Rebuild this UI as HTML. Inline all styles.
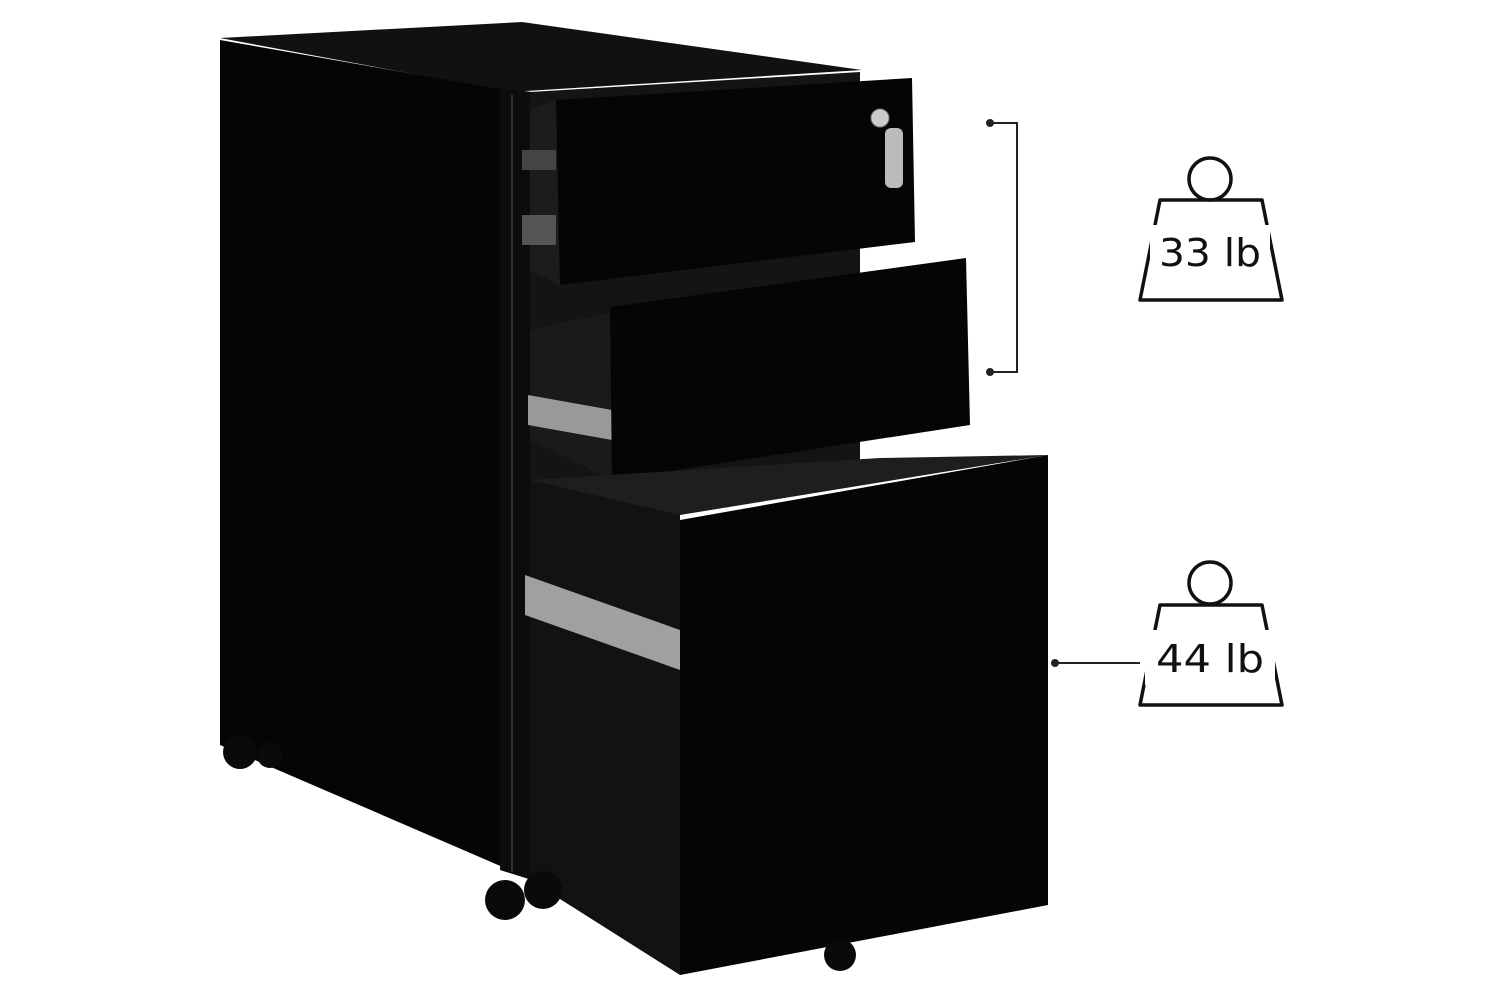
<!DOCTYPE html>
<html><head><meta charset="utf-8"><style>html,body{margin:0;padding:0;background:#fff}svg{display:block}</style></head>
<body>
<svg width="1500" height="1000" viewBox="0 0 1500 1000" xmlns="http://www.w3.org/2000/svg">
<rect width="1500" height="1000" fill="#fff"/>
<!-- top surface -->
<polygon points="220,38 522,22 862,70 510,92" fill="#111"/>
<!-- side panel -->
<polygon points="220,40 505,90 505,868 220,745" fill="#050505"/>
<!-- back wheels -->
<circle cx="240" cy="752" r="17" fill="#0a0a0a"/>
<circle cx="270" cy="755" r="13" fill="#0a0a0a"/>
<!-- front frame column -->
<polygon points="500,88 532,92 532,880 500,870" fill="#0c0c0c"/>
<line x1="512" y1="95" x2="512" y2="872" stroke="#333" stroke-width="2"/>
<!-- interior -->
<polygon points="530,92 860,72 860,470 530,490" fill="#141414"/>
<polygon points="530,480 680,512 680,975 530,880" fill="#121212"/>
<!-- top drawer -->
<polygon points="530,110 556,100 560,285 530,270" fill="#1c1c1c"/>
<polygon points="556,100 912,78 915,242 560,285" fill="#050505"/>
<rect x="522" y="150" width="34" height="20" fill="#444"/>
<rect x="522" y="215" width="34" height="30" fill="#555"/>
<!-- lock -->
<circle cx="880" cy="118" r="9" fill="#ccc" stroke="#777"/>
<rect x="885" y="128" width="18" height="60" rx="6" fill="#bbb"/>
<!-- middle drawer -->
<polygon points="530,330 612,312 612,480 530,440" fill="#1a1a1a"/>
<polygon points="528,395 612,410 612,440 528,425" fill="#999"/>
<polygon points="610,307 966,258 970,425 612,480" fill="#050505"/>
<!-- bottom drawer -->
<polygon points="525,575 680,630 680,670 525,615" fill="#a0a0a0"/>
<polygon points="530,480 880,458 1048,455 680,515" fill="#1e1e1e"/>
<polygon points="680,520 1048,455 1048,905 680,975" fill="#050505"/>
<!-- wheels front -->
<circle cx="505" cy="900" r="20" fill="#0a0a0a"/>
<circle cx="543" cy="890" r="19" fill="#0a0a0a"/>
<circle cx="840" cy="955" r="16" fill="#0a0a0a"/>
<!-- bracket -->
<g stroke="#222" stroke-width="2" fill="none">
<polyline points="990,123 1017,123 1017,372 990,372"/>
<line x1="1055" y1="663" x2="1140" y2="663"/>
</g>
<circle cx="990" cy="123" r="4" fill="#222"/>
<circle cx="990" cy="372" r="4" fill="#222"/>
<circle cx="1055" cy="663" r="4" fill="#222"/>
<!-- weight icons -->
<g stroke="#111" stroke-width="3.5" fill="none" stroke-linejoin="round">
<circle cx="1210" cy="179" r="21"/>
<polygon points="1160,200 1262,200 1282,300 1140,300"/>
<circle cx="1210" cy="583" r="21"/>
<polygon points="1160,605 1262,605 1282,705 1140,705"/>
</g>
<rect x="1150" y="225" width="120" height="50" fill="#fff"/>
<rect x="1145" y="630" width="130" height="55" fill="#fff"/>
<g font-family="DejaVu Sans, sans-serif" font-size="38" fill="#111" text-anchor="middle">
<text x="1210" y="266" textLength="102" lengthAdjust="spacingAndGlyphs">33 lb</text>
<text x="1210" y="672" textLength="108" lengthAdjust="spacingAndGlyphs">44 lb</text>
</g>
</svg>
</body></html>
